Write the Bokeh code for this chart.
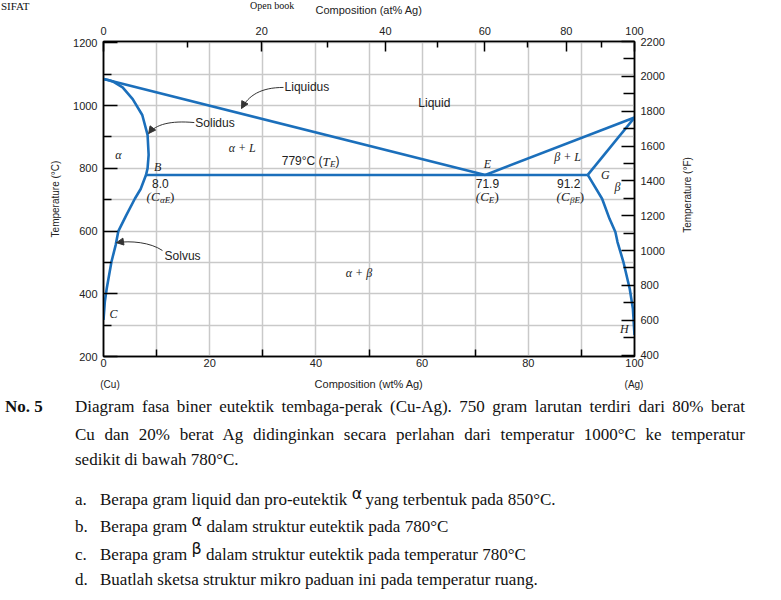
import math
from bokeh.plotting import figure
from bokeh.models import (Range1d, LinearAxis, FixedTicker, Label, Arrow, NormalHead,
                          Div, CustomJSTickFormatter)
from bokeh.layouts import column
from bokeh.embed import file_html
from bokeh.resources import INLINE

# ---------------- data (wt% Ag, temperature in deg C) ----------------
liquidus_cu_wt = [0.0, 71.9]
liquidus_cu_T = [1085, 779]
liquidus_ag_wt = [71.9, 100.0]
liquidus_ag_T = [779, 962]
solidus_alpha_wt = [0.0, 0.9, 1.9, 3.6, 5.5, 7.3, 8.3, 8.5, 8.3, 8.0]
solidus_alpha_T = [1085, 1082, 1076, 1058, 1021, 970, 907, 843, 800, 779]
solvus_alpha_wt = [8.0, 7.0, 5.9, 4.3, 2.8, 2.3, 1.5, 0.6, 0.25, 0.0]
solvus_alpha_T = [779, 734, 703, 651, 600, 556, 502, 416, 374, 317]
solidus_beta_wt = [91.2, 100.0]
solidus_beta_T = [779, 962]
solvus_beta_wt = [91.2, 93.9, 95.3, 96.4, 96.8, 97.9, 99.1, 99.7, 100.0]
solvus_beta_T = [779, 703, 639, 597, 565, 502, 416, 352, 269]
eutectic_wt = [8.0, 91.2]
eutectic_T = [779, 779]

wt_major = [0, 20, 40, 60, 80, 100]
wt_minor = [10, 30, 50, 70, 90]
wt_grid = [0, 10, 20, 30, 40, 50, 60, 70, 80, 90, 100]
tc_major = [200, 400, 600, 800, 1000, 1200]
tc_minor = [300, 500, 700, 900, 1100]
tc_grid = [200, 300, 400, 500, 600, 700, 800, 900, 1000, 1100, 1200]
tf_major = [400, 600, 800, 1000, 1200, 1400, 1600, 1800, 2000, 2200]
tf_minor = [500, 700, 900, 1100, 1300, 1500, 1700, 1900, 2100]
at_major = [0, 20, 40, 60, 80, 100]
at_minor = [10, 30, 50, 70, 90]

M_AG, M_CU = 107.87, 63.55


def at_to_wt(a):
    return 100.0 * a * M_AG / (a * M_AG + (100 - a) * M_CU)


BLUE = "#1b6fbb"
INK = "#222222"
SANS = "Liberation Sans"
SERIF = "Liberation Serif"

T_LO, T_HI = 200, 1204.5

p = figure(width=781, height=395, x_range=Range1d(0, 100), y_range=Range1d(T_LO, T_HI),
           output_backend="svg", toolbar_location=None,
           min_border_left=103, min_border_right=147, min_border_top=41, min_border_bottom=39,
           x_axis_label="Composition (wt% Ag)", y_axis_label="Temperature (°C)")
p.extra_y_ranges = {"F": Range1d(T_LO * 9 / 5 + 32, T_HI * 9 / 5 + 32)}
p.outline_line_color = "black"
p.outline_line_width = 1.5
p.background_fill_color = "white"
p.border_fill_color = "white"


def style_axis(ax, major_in, minor_in):
    ax.major_tick_in = major_in
    ax.major_tick_out = 0
    ax.minor_tick_in = minor_in
    ax.minor_tick_out = 0
    ax.axis_line_color = "black"
    ax.axis_line_width = 1.5
    ax.major_tick_line_color = "black"
    ax.minor_tick_line_color = "black"
    ax.major_tick_line_width = 1.5
    ax.minor_tick_line_width = 1.5
    ax.major_label_text_font = SANS
    ax.major_label_text_font_size = "11px"
    ax.major_label_text_color = INK
    ax.axis_label_text_font = SANS
    ax.axis_label_text_font_size = "11px"
    ax.axis_label_text_font_style = "normal"
    ax.axis_label_text_color = INK


# bottom axis (wt%)
xa = p.xaxis[0]
xa.ticker = FixedTicker(ticks=wt_major, minor_ticks=wt_minor)
style_axis(xa, 0, 7)
xa.major_label_standoff = 2
xa.axis_label_standoff = 8

# left axis (deg C)
ya = p.yaxis[0]
ya.ticker = FixedTicker(ticks=tc_major, minor_ticks=tc_minor)
style_axis(ya, 14, 8)
ya.major_label_standoff = 6
ya.axis_label_standoff = 9
ya.axis_label_text_font_size = "10px"

# top axis (at%)
top = LinearAxis(ticker=FixedTicker(ticks=[at_to_wt(a) for a in at_major],
                                    minor_ticks=[at_to_wt(a) for a in at_minor]),
                 formatter=CustomJSTickFormatter(code="""
                     const a = (tick/107.87)/((tick/107.87)+((100-tick)/63.55))*100;
                     return Math.round(a).toString();"""),
                 axis_label="Composition (at% Ag)")
style_axis(top, 10, 6)
top.major_label_standoff = 7
top.axis_label_standoff = 8
p.add_layout(top, "above")

# right axis (deg F); its title is set in the page text below so that it reads upward
right = LinearAxis(y_range_name="F", ticker=FixedTicker(ticks=tf_major, minor_ticks=tf_minor))
style_axis(right, 13, 11)
right.major_label_standoff = 6
p.add_layout(right, "right")

p.xgrid.ticker = FixedTicker(ticks=wt_grid)
p.ygrid.ticker = FixedTicker(ticks=tc_grid)
for g in (p.xgrid, p.ygrid):
    g.grid_line_color = "#c9c9c9"
    g.grid_line_width = 1.5

# phase boundaries
for xs, ys in [(liquidus_cu_wt, liquidus_cu_T), (liquidus_ag_wt, liquidus_ag_T),
               (solidus_alpha_wt, solidus_alpha_T), (solvus_alpha_wt, solvus_alpha_T),
               (solidus_beta_wt, solidus_beta_T), (solvus_beta_wt, solvus_beta_T),
               (eutectic_wt, eutectic_T)]:
    p.line(xs, ys, line_color=BLUE, line_width=2.6)


def lab(x, y, text, font=SANS, size=12, style="normal", align="center",
        baseline="middle", xo=0, yo=0, color=INK, angle=0):
    p.add_layout(Label(x=x, y=y, text=text, text_font=font, text_font_size=f"{size}px",
                       text_font_style=style, text_align=align, text_baseline=baseline,
                       x_offset=xo, y_offset=yo, text_color=color, angle=angle))


# point letters
for (x, y, t) in [(-2.07, 1099, "A"), (10.2, 803, "B"), (1.9, 334, "C"), (72.3, 815, "E"),
                  (102.3, 940, "F"), (94.5, 780, "G"), (98.1, 289, "H")]:
    lab(x, y, t, font=SERIF, size=12, style="italic")

# phase region labels
for (x, y, t) in [(2.8, 841, "α"), (26.4, 866, "α  + L"), (87.4, 835, "β + L"),
                  (48.4, 465, "α  + β"), (96.8, 742, "β")]:
    lab(x, y, t, font=SERIF, size=12, style="italic")
lab(62.3, 1007, "Liquid", size=12)

# compositions
for (x, t) in [(10.7, "8.0"), (72.3, "71.9"), (87.6, "91.2")]:
    lab(x, 752, t, size=12)


def comp_label(x, y, sub):
    if len(sub) == 1:
        lab(x, y, "(C", font=SERIF, size=13, style="italic", align="right", xo=1.4)
        lab(x, y, sub, font=SERIF, size=9, style="italic", align="left", xo=1.4, yo=-3)
        lab(x, y, ")", font=SERIF, size=13, align="left", xo=7.0)
    else:
        lab(x, y, "(C", font=SERIF, size=13, style="italic", align="right", xo=-0.7)
        lab(x, y, sub, font=SERIF, size=9, style="italic", align="left", xo=-0.2, yo=-3)
        lab(x, y, ")", font=SERIF, size=13, align="left", xo=9.6)


comp_label(10.7, 710, "αE")
comp_label(72.3, 710, "E")
comp_label(87.9, 710, "βE")

# eutectic temperature
lab(39.0, 822, "779°C (", size=12, align="right", xo=12)
lab(39.0, 822, "T", font=SERIF, size=13, style="italic", align="left", xo=12)
lab(39.0, 822, "E", font=SERIF, size=9, style="italic", align="left", xo=19.5, yo=-3)
lab(39.0, 822, ")", size=12, align="left", xo=25)

# curve names with arrows
ann_names = ["Liquidus", "Solidus", "Solvus"]
ann_text_x = [34.1, 17.3, 11.5]
ann_text_y = [1058, 946, 522]
arr_x0 = [33.9, 17.1, 11.1]
arr_y0 = [1058, 946, 538]
arr_cx0 = [29.6, 12.6, 8.85]
arr_cy0 = [1058, 953, 564]
arr_cx1 = [27.3, 9.8, 5.1]
arr_cy1 = [1032, 940, 570]
arr_x1 = [26.0, 8.5, 2.45]
arr_y1 = [991, 911, 563]

for i, name in enumerate(ann_names):
    lab(ann_text_x[i], ann_text_y[i], name, size=12, align="left")
p.bezier(x0=arr_x0, y0=arr_y0, x1=arr_x1, y1=arr_y1, cx0=arr_cx0, cy0=arr_cy0,
         cx1=arr_cx1, cy1=arr_cy1, line_color="#333333", line_width=1)
for i in range(3):
    xs = arr_x1[i] + 0.2 * (arr_cx1[i] - arr_x1[i])
    ys = arr_y1[i] + 0.2 * (arr_cy1[i] - arr_y1[i])
    p.add_layout(Arrow(end=NormalHead(size=7, fill_color="#333333", line_color="#333333",
                                      line_width=1),
                       x_start=xs, y_start=ys, x_end=arr_x1[i], y_end=arr_y1[i],
                       line_color="#333333", line_width=1))

# ---------------- question text (and texts lying outside the plot frame) ----------------
para_lines = [
    "Diagram fasa biner eutektik tembaga-perak (Cu-Ag). 750 gram larutan terdiri dari 80% berat",
    "Cu dan 20% berat Ag didinginkan secara perlahan dari temperatur 1000°C ke temperatur",
    "sedikit di bawah 780°C.",
]
para_tops = [2, 30, 55]
items = [
    ("a.", "Berapa gram liquid dan pro-eutektik ", "α", "&thinsp;yang terbentuk pada 850°C."),
    ("b.", "Berapa gram ", "α", " dalam struktur eutektik pada 780°C"),
    ("c.", "Berapa gram ", "β", " dalam struktur eutektik pada temperatur 780°C"),
    ("d.", "Buatlah sketsa struktur mikro paduan ini pada temperatur ruang.", "", ""),
]
item_tops = [95, 122, 150, 175]

html = ['<div style="position:relative;width:781px;height:205px;font-family:\'Liberation Serif\';'
        'font-size:17px;line-height:20px;color:#111;overflow:visible;">']
# element names under the composition axis
html.append('<div style="position:absolute;left:90px;top:-16px;width:40px;text-align:center;'
            'font-family:\'Liberation Sans\';font-size:10px;line-height:12px;color:#222;">(Cu)</div>')
html.append('<div style="position:absolute;left:614px;top:-16px;width:40px;text-align:center;'
            'font-family:\'Liberation Sans\';font-size:10px;line-height:12px;color:#222;">(Ag)</div>')
# title of the deg F axis, reading upward
html.append('<div style="position:absolute;left:688px;top:-200px;white-space:nowrap;'
            'transform:translate(-50%,-50%) rotate(-90deg);font-family:\'Liberation Sans\';'
            'font-size:10px;line-height:12px;color:#222;">Temperature (°F)</div>')
# headings of the page above
html.append('<div style="position:absolute;left:1px;top:-395px;font-size:11px;line-height:12px;">'
            'SIFAT</div>')
html.append('<div style="position:absolute;left:250px;top:-395px;font-size:10px;line-height:11px;">'
            'Open book</div>')
html.append('<div style="position:absolute;left:5px;top:2px;font-weight:bold;">No. 5</div>')
for i, (t, top_px) in enumerate(zip(para_lines, para_tops)):
    just = "justify" if i < len(para_lines) - 1 else "left"
    html.append(f'<div style="position:absolute;left:75px;top:{top_px}px;width:670px;'
                f'white-space:nowrap;text-align:{just};text-align-last:{just};">{t}</div>')
for (lbl, a, g, b), top_px in zip(items, item_tops):
    html.append(f'<div style="position:absolute;left:75px;top:{top_px}px;">{lbl}</div>')
    greek = (f'<span style="font-family:\'DejaVu Sans\';font-size:16px;position:relative;'
             f'top:-6px;">{g}</span>') if g else ""
    html.append(f'<div style="position:absolute;left:100px;top:{top_px}px;white-space:nowrap;">'
                f'{a}{greek}{b}</div>')
html.append('</div>')

div = Div(text="".join(html), width=781, height=205, margin=(0, 0, 0, 0),
          styles={"overflow": "visible"})

layout = column(p, div, spacing=0, styles={"overflow": "visible"})
open("out.html", "w").write(file_html(layout, INLINE))
